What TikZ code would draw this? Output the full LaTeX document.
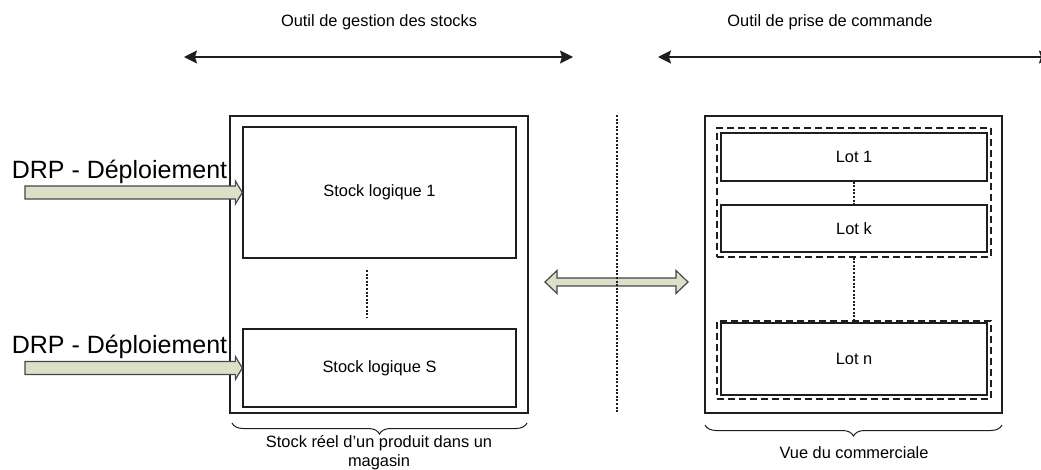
\documentclass[tikz,border=0pt]{standalone}
\usepackage{fontspec}
\setmainfont{Liberation Sans}
\usetikzlibrary{arrows.meta,calc,decorations.pathreplacing}
\definecolor{ln}{RGB}{30,30,30}
\definecolor{arrfill}{RGB}{221,224,201}
\definecolor{arrline}{RGB}{70,70,70}
\begin{document}
\begin{tikzpicture}[x=1pt,y=-1pt,
  box/.style={draw=ln,line width=1.3pt,inner sep=0pt,font=\fontsize{16.4}{19}\selectfont},
  dbox/.style={draw=ln,line width=1.3pt,dash pattern=on 7pt off 4pt,inner sep=0pt},
  lbl/.style={inner sep=0pt,align=center,font=\fontsize{16.4}{19}\selectfont},
  biglbl/.style={inner sep=0pt,font=\fontsize{25}{30}\selectfont},
  dotline/.style={draw=ln,line width=1.4pt,dash pattern=on 2pt off 1.6pt},
  blockarr/.style={draw=arrline,fill=arrfill,line width=1.2pt,line join=miter},
  toparr/.style={draw=ln,line width=1.4pt,{Stealth[length=13pt,width=13pt,inset=2pt]}-{Stealth[length=13pt,width=13pt,inset=2pt]}},
  brc/.style={draw=ln,line width=1pt,decorate,decoration={brace,mirror,amplitude=11pt}}]
\clip (0,0) rectangle (1041,470);
\fill[white] (0,0) rectangle (1041,470);

% top labels and arrows
\node[lbl] (t1) at (379,22) {Outil de gestion des stocks};
\node[lbl] (t2) at (830,22) {Outil de prise de commande};
\coordinate (a1) at (184,57);
\coordinate (a2) at (573,57);
\coordinate (a3) at (658,57);
\coordinate (a4) at (1052,57);
\draw[toparr] (a1) -- (a2);
\draw[toparr] (a3) -- (a4);

% left store box
\node[box,minimum width=298,minimum height=297] (lb) at (379,264.5) {};
\node[box,minimum width=273,minimum height=131] (s1) at (379.5,192.5) {Stock logique 1};
\node[box,minimum width=273,minimum height=78] (sS) at (379.5,368) {Stock logique S};
\coordinate (v1) at (367,270);
\coordinate (v2) at (367,317);
\draw[dotline] (v1) -- (v2);

% DRP inputs
\node[biglbl] (drp1) at (119.5,172) {DRP - Déploiement};
\node[biglbl] (drp2) at (119.5,347) {DRP - Déploiement};
\coordinate (d1) at (25,192.5);
\coordinate (d2) at (25,368);
\draw[blockarr] ($(d1)+(0,-6.5)$) -- ($(s1.west)+(-7,-6.5)$) -- ($(s1.west)+(-7,-11.5)$) -- (s1.west)
  -- ($(s1.west)+(-7,11.5)$) -- ($(s1.west)+(-7,6.5)$) -- ($(d1)+(0,6.5)$) -- cycle;
\draw[blockarr] ($(d2)+(0,-6.5)$) -- ($(sS.west)+(-7,-6.5)$) -- ($(sS.west)+(-7,-11.5)$) -- (sS.west)
  -- ($(sS.west)+(-7,11.5)$) -- ($(sS.west)+(-7,6.5)$) -- ($(d2)+(0,6.5)$) -- cycle;

% right commercial box
\node[box,minimum width=297,minimum height=297] (rb) at (853.5,264.5) {};
\node[dbox,minimum width=274,minimum height=129] (g1) at (854,192.5) {};
\node[box,minimum width=266,minimum height=48] (l1) at (854,157) {Lot 1};
\node[box,minimum width=266,minimum height=47] (lk) at (854,228.5) {Lot k};
\node[dbox,minimum width=274,minimum height=78] (g2) at (854,360) {};
\node[box,minimum width=266,minimum height=72] (ln) at (854,359) {Lot n};
\draw[dotline] (l1.south) -- (lk.north);
\draw[dotline] (g1.south) -- (g2.north);

% exchange arrow
\coordinate (dl) at (545,282);
\coordinate (dr) at (688,282);
\draw[blockarr] (dl) -- ($(dl)+(12,-11.5)$) -- ($(dl)+(12,-4)$) -- ($(dr)+(-12,-4)$) -- ($(dr)+(-12,-11.5)$) -- (dr)
  -- ($(dr)+(-12,11.5)$) -- ($(dr)+(-12,4)$) -- ($(dl)+(12,4)$) -- ($(dl)+(12,11.5)$) -- cycle;

% separator
\coordinate (m1) at (617,115);
\coordinate (m2) at (617,412);
\draw[dotline] (m1) -- (m2);

% braces
\coordinate (b1) at (232,423);
\coordinate (b2) at (527,423);
\coordinate (b3) at (705,425);
\coordinate (b4) at (1002,425);
\draw[brc] (b1) -- (b2);
\draw[brc] (b3) -- (b4);
\node[lbl] (c1) at (379,452.5) {Stock réel d’un produit dans un\\magasin};
\node[lbl] (c2) at (854,453) {Vue du commerciale};
\end{tikzpicture}
\end{document}
